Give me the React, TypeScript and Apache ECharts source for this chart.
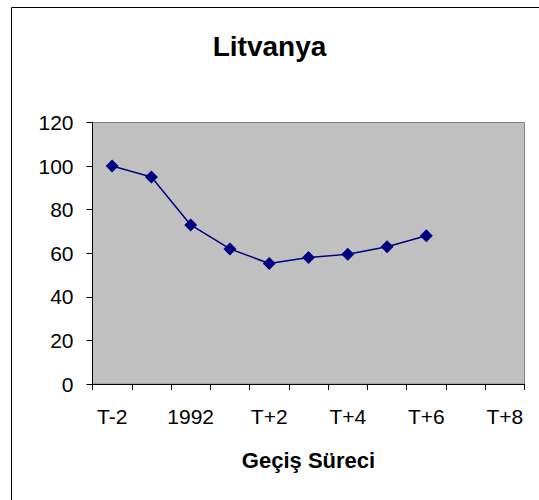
import React, { useEffect, useRef } from "react";
import * as echarts from "echarts";

const categories = ["T-2", "T-1", "1992", "T+1", "T+2", "T+3", "T+4", "T+5", "T+6", "T+7", "T+8"];
const values = [100, 95, 73, 62, 55.3, 58, 59.5, 63, 68];
const yTicks = { min: 0, max: 120, interval: 20 };
const titleText = "Litvanya";
const xName = "Geçiş Süreci";

export default function App() {
  const ref = useRef<HTMLDivElement>(null);
  useEffect(() => {
    document.body.style.margin = "0";
    const chart = echarts.init(ref.current!, null, { renderer: "svg" });
    const font = "'Liberation Sans', Arial, sans-serif";
    chart.setOption({
      animation: false,
      backgroundColor: "#ffffff",
      title: {
        text: titleText,
        left: "center",
        top: 27,
        textStyle: { fontFamily: font, fontSize: 28, fontWeight: "bold", color: "#000" },
      },
      grid: {
        left: 92.5,
        top: 122.5,
        right: 14.5,
        bottom: 116,
        show: true,
        backgroundColor: "#C0C0C0",
        borderColor: "#808080",
        borderWidth: 1,
      },
      xAxis: {
        type: "category",
        data: categories,
        boundaryGap: true,
        name: xName,
        nameLocation: "middle",
        nameGap: 65,
        nameTextStyle: { fontFamily: font, fontSize: 22, fontWeight: "bold", color: "#000" },
        axisLine: { lineStyle: { color: "#000", width: 1 } },
        axisTick: { show: true, interval: 0, length: 6, lineStyle: { color: "#000" } },
        axisLabel: { interval: 1, margin: 22, fontFamily: font, fontSize: 21, color: "#000" },
        splitLine: { show: false },
      },
      yAxis: {
        type: "value",
        min: yTicks.min,
        max: yTicks.max,
        interval: yTicks.interval,
        axisLine: { show: true, lineStyle: { color: "#000", width: 1 } },
        axisTick: { show: true, length: 6, lineStyle: { color: "#000" } },
        axisLabel: { margin: 19, fontFamily: font, fontSize: 21, color: "#000" },
        splitLine: { show: false },
      },
      series: [
        {
          type: "line",
          data: values,
          symbol: "diamond",
          symbolSize: 13,
          itemStyle: { color: "#000080" },
          lineStyle: { color: "#000080", width: 1.5 },
        },
      ],
      graphic: [
        { type: "line", shape: { x1: 11.5, y1: 7.5, x2: 539, y2: 7.5 }, style: { stroke: "#000", lineWidth: 1 } },
        { type: "line", shape: { x1: 11.5, y1: 7.5, x2: 11.5, y2: 500 }, style: { stroke: "#000", lineWidth: 1 } },
      ],
    });
    return () => chart.dispose();
  }, []);
  return <div ref={ref} style={{ width: 539, height: 500 }} />;
}
